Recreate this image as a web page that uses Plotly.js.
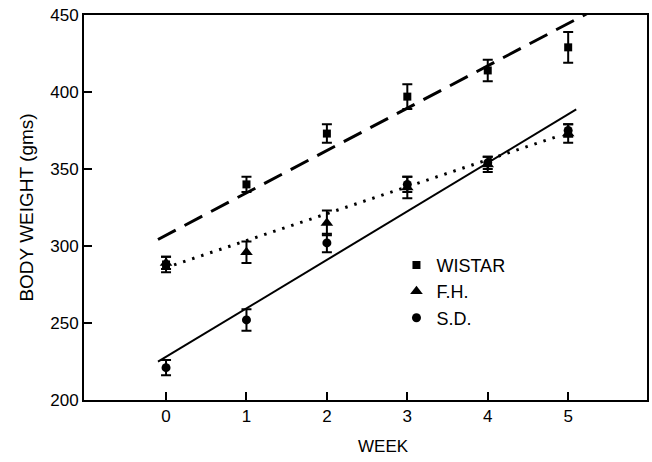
<!DOCTYPE html>
<html>
<head>
<meta charset="utf-8">
<script src="https://cdn.plot.ly/plotly-3.0.1.min.js"></script>
<style>
html,body{margin:0;padding:0;background:#fff;}
#chart{width:652px;height:462px;}
</style>
</head>
<body>
<div id="chart"></div>
<script>
// Data
const weeks = [0, 1, 2, 3, 4, 5];
const seriesNames = ["WISTAR", "F.H.", "S.D."];
const wistar = [288, 340, 373, 397, 414, 429];
const wistarErr = [5, 5, 6, 8, 7, 10];
const fh = [289, 296, 315, 338, 353, 373];
const fhErr = [4, 7, 8, 7, 5, 6];
const sd = [221, 252, 302, 340, 354, 375];
const sdErr = [5, 7, 6, 5, 4, 4];
// fitted regression lines: intercept at week 0, slope per week, drawn span
const fitIntercept = [307, 286, 228];
const fitSlope = [27.5, 17.5, 31.5];
const fitFrom = [-0.1, 0.1, -0.1];
const fitTo = [5.4, 4.85, 5.1];
const yTicks = [200, 250, 300, 350, 400, 450];
const xTicks = [0, 1, 2, 3, 4, 5];

const FONT = "Liberation Sans, Arial, Helvetica, sans-serif";
const symbols = ["square", "triangle-up", "circle"];
const sizes = [8, 11, 9];
const dashes = ["20px,10px", "2.5px,7px", "solid"];
const widths = [3, 3, 2];
const vals = [wistar, fh, sd];
const errs = [wistarErr, fhErr, sdErr];

const traces = [];
for (let i = 0; i < 3; i++) {
  traces.push({
    x: [fitFrom[i], fitTo[i]],
    y: [fitIntercept[i] + fitSlope[i] * fitFrom[i], fitIntercept[i] + fitSlope[i] * fitTo[i]],
    mode: "lines",
    line: {color: "#000", width: widths[i], dash: dashes[i]},
    showlegend: false,
    hoverinfo: "skip"
  });
}
for (let i = 0; i < 3; i++) {
  traces.push({
    x: weeks,
    y: vals[i],
    name: seriesNames[i],
    mode: "markers",
    marker: {symbol: symbols[i], size: sizes[i], color: "#000"},
    error_y: {type: "data", array: errs[i], visible: true, color: "#000", thickness: 2, width: 5},
    showlegend: true
  });
}

const layout = {
  width: 652, height: 462,
  margin: {l: 84, r: 5, t: 15, b: 62},
  paper_bgcolor: "#fff", plot_bgcolor: "#fff",
  font: {family: FONT, color: "#000", size: 17},
  showlegend: true,
  legend: {x: 0.555, y: 0.398, xanchor: "left", yanchor: "top", bgcolor: "rgba(0,0,0,0)",
           font: {family: FONT, size: 18, color: "#000"}, itemwidth: 30, tracegroupgap: 0},
  xaxis: {
    range: [-1.02, 5.98], tickvals: xTicks, ticktext: xTicks.map(String),
    ticks: "inside", ticklen: 8, tickwidth: 2, tickcolor: "#000",
    showline: true, linewidth: 2, linecolor: "#000", mirror: true,
    showgrid: false, zeroline: false, tickfont: {size: 17}
  },
  yaxis: {
    range: [200, 450], tickvals: yTicks, ticktext: yTicks.map(String),
    ticks: "inside", ticklen: 8, tickwidth: 2, tickcolor: "#000",
    showline: true, linewidth: 2, linecolor: "#000", mirror: true,
    showgrid: false, zeroline: false, tickfont: {size: 17},
    title: {text: "BODY WEIGHT (gms)", font: {size: 19}, standoff: 12}
  },
  annotations: [{
    text: "WEEK", xref: "paper", yref: "paper", x: 0.532, y: -0.122,
    xanchor: "center", yanchor: "middle", showarrow: false, font: {size: 17}
  }]
};

Plotly.newPlot("chart", traces, layout, {displayModeBar: false, staticPlot: true});
</script>
</body>
</html>
